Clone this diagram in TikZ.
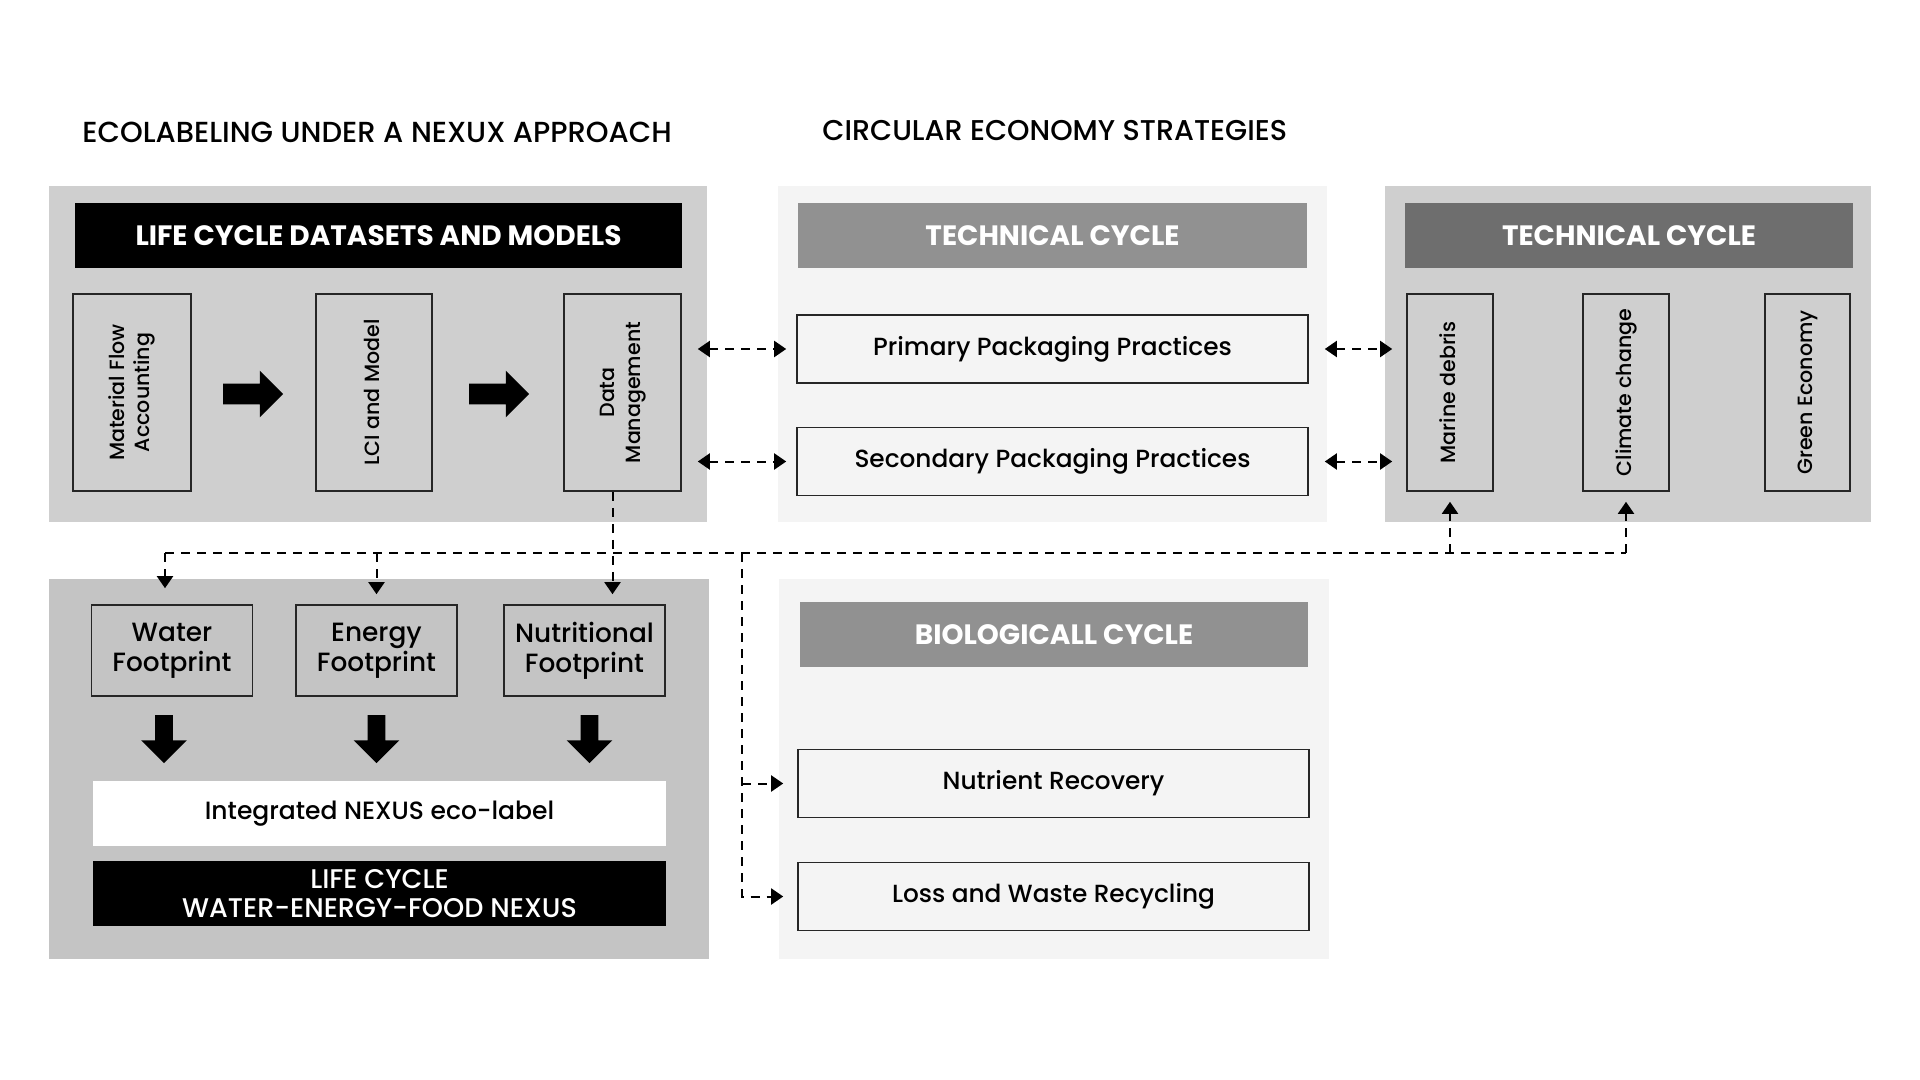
\documentclass[tikz,border=0pt]{standalone}
\usepackage{fontspec}
\usepackage{graphicx}
\setmainfont{Poppins}[UprightFont={* Medium},BoldFont={* Bold}]
\usetikzlibrary{positioning,shapes.arrows,arrows.meta}

\definecolor{panelA}{HTML}{CFCFCF}
\definecolor{panelB}{HTML}{C4C4C4}
\definecolor{paleG}{HTML}{F4F4F4}
\definecolor{midG}{HTML}{919191}
\definecolor{darkG}{HTML}{6E6E6E}

\tikzset{
	backpanel/.style={inner sep=0pt},
	headbar/.style={inner sep=0pt, text=white, minimum height=32.5pt, font=\fontsize{14}{16}\selectfont\bfseries},
	vertbox/.style={draw=black!85, line width=0.8pt, inner sep=0pt, minimum height=98.5pt, font=\fontsize{10.3}{12.8}\selectfont},
	pracbox/.style={draw=black!85, line width=0.8pt, fill=paleG, minimum width=255.5pt, minimum height=34pt, font=\fontsize{12.4}{14}\selectfont},
	footbox/.style={draw=black!85, line width=0.8pt, fill=panelB, minimum width=80.5pt, minimum height=45.5pt, align=center, inner sep=0pt, font=\fontsize{13.2}{15}\selectfont},
	rarrow/.style={single arrow, fill=black, inner sep=5pt, minimum height=30pt, minimum width=23pt, single arrow head extend=6.5pt},
	darrow/.style={single arrow, fill=black, inner sep=4.25pt, shape border rotate=270, minimum height=24pt, minimum width=22.5pt, single arrow head extend=7pt},
	dline/.style={line width=1pt, dash pattern=on 4.5pt off 3.5pt},
	dtip/.style={-{Triangle[width=8pt,length=6pt]}},
	dbitip/.style={{Triangle[width=8pt,length=6pt]}-{Triangle[width=8pt,length=6pt]}}
}

\newcommand{\vtext}[1]{\rotatebox{90}{\begin{tabular}{@{}c@{}}#1\end{tabular}}}

\begin{document}
\begin{tikzpicture}[x=0.5pt,y=-0.5pt]
	\useasboundingbox[fill=white] (0,0) rectangle (1920,1080);
	
	% titres
	\node[anchor=west, inner sep=0pt, font=\fontsize{14.5}{16}\selectfont] (ecotitle) at (82,132) {ECOLABELING UNDER A NEXUX APPROACH};
	\node[anchor=west, inner sep=0pt, font=\fontsize{14.3}{16}\selectfont] (cetitle) at (822,131) {CIRCULAR ECONOMY STRATEGIES};
	
	% panneaux de fond
	\node[backpanel, fill=panelA, minimum width=329pt, minimum height=168pt] (lcpanel) at (378,354) {};
	\node[backpanel, fill=paleG, minimum width=274.5pt, minimum height=168pt] (tcpanel) at (1052.5,354) {};
	\node[backpanel, fill=panelA, minimum width=243pt, minimum height=168pt] (impanel) at (1628,354) {};
	\node[backpanel, fill=panelB, minimum width=330pt, minimum height=190pt] (nxpanel) at (379,769) {};
	\node[backpanel, fill=paleG, minimum width=275pt, minimum height=190pt] (bcpanel) at (1054,769) {};
	
	% bandeaux
	\node[headbar, fill=black, minimum width=303.5pt] (lchead) at (378.5,235.5) {LIFE CYCLE DATASETS AND MODELS};
	\node[headbar, fill=midG, minimum width=254.5pt] (tchead) at (1052.5,235.5) {TECHNICAL CYCLE};
	\node[headbar, fill=darkG, minimum width=224pt] (imhead) at (1629,235.5) {TECHNICAL CYCLE};
	\node[headbar, fill=midG, minimum width=254pt] (bchead) at (1054,634.5) {BIOLOGICALL CYCLE};
	
	% jeux de donnees
	\node[vertbox, fill=panelA, minimum width=59pt] (maf) at (132,392.5) {\vtext{Material Flow\\Accounting}};
	\node[vertbox, fill=panelA, minimum width=58pt] (lci) at (374,392.5) {\vtext{LCI and Model}};
	\node[vertbox, fill=panelA, minimum width=58.5pt] (dm) at (622.5,392.5) {\vtext{Data\\Management}};
	\node[rarrow] (ra1) at (248,394) {};
	\node[rarrow] (ra2) at (494,394) {};
	
	% impacts
	\node[vertbox, fill=panelA, minimum width=43pt] (mar) at (1450,392.5) {\vtext{Marine debris}};
	\node[vertbox, fill=panelA, minimum width=43pt] (cli) at (1626,392.5) {\vtext{Climate change}};
	\node[vertbox, fill=panelA, minimum width=42.5pt] (gre) at (1807.5,392.5) {\vtext{Green Economy}};
	
	% pratiques
	\node[pracbox] (pri) at (1052.5,349) {Primary Packaging Practices};
	\node[pracbox] (sec) at (1052.5,461.5) {Secondary Packaging Practices};
	\node[pracbox] (nutr) at (1053.5,783.5) {Nutrient Recovery};
	\node[pracbox] (los) at (1053.5,896.5) {Loss and Waste Recycling};
	
	% empreintes
	\node[footbox] (wat) at (172,650.5) {Water\\Footprint};
	\node[footbox] (ene) at (376.5,650.5) {Energy\\Footprint};
	\node[footbox] (nut) at (584.5,650.5) {Nutritional\\Footprint};
	\node[darrow, below=9pt of wat, xshift=-4pt] (da1) {};
	\node[darrow, below=9pt of ene] (da2) {};
	\node[darrow, below=9pt of nut, xshift=2.5pt] (da3) {};
	
	% label
	\node[backpanel, fill=white, minimum width=286.5pt, minimum height=32.5pt, font=\fontsize{12.5}{15}\selectfont] (lab) at (379.5,813.5) {Integrated NEXUS eco-label};
	\node[backpanel, fill=black, text=white, align=center, minimum width=286.5pt, minimum height=32.5pt, font=\fontsize{13.5}{14.5}\selectfont] (wef) at (379.5,893.5) {LIFE CYCLE\\WATER-ENERGY-FOOD NEXUS};
	
	% liaisons en pointilles
	\coordinate (bus) at (0,553);
	\coordinate (split) at (742,553);
	\draw[dline] ([xshift=-3.5pt]wat.north |- bus) -- (cli.south |- bus);
	\draw[dline, dtip, shorten >=8pt] ([xshift=-3.5pt]wat.north |- bus) -- ([xshift=-3.5pt]wat.north);
	\draw[dline, dtip, shorten >=5pt] (ene.north |- bus) -- (ene.north);
	\draw[dline, dtip, shorten >=5pt] ([xshift=-5pt]dm.south) -- ([xshift=-5pt]dm.south |- nut.north);
	\draw[dline, dtip, shorten >=5pt] (mar.south |- bus) -- (mar.south);
	\draw[dline, dtip, shorten >=5pt] (cli.south |- bus) -- (cli.south);
	\draw[dline, dtip, shorten >=7pt] (split) |- (los.west);
	\draw[dline, dtip, shorten >=7pt] (split |- nutr.west) -- (nutr.west);
	
	% doubles fleches
	\draw[dline, dbitip, shorten <=8pt, shorten >=5pt] (dm.east |- pri.west) -- (pri.west);
	\draw[dline, dbitip, shorten <=8pt, shorten >=5pt] (dm.east |- sec.west) -- (sec.west);
	\draw[dline, dbitip, shorten <=8pt, shorten >=7pt] (pri.east) -- (mar.west |- pri.east);
	\draw[dline, dbitip, shorten <=8pt, shorten >=7pt] (sec.east) -- (mar.west |- sec.east);
\end{tikzpicture}
\end{document}
